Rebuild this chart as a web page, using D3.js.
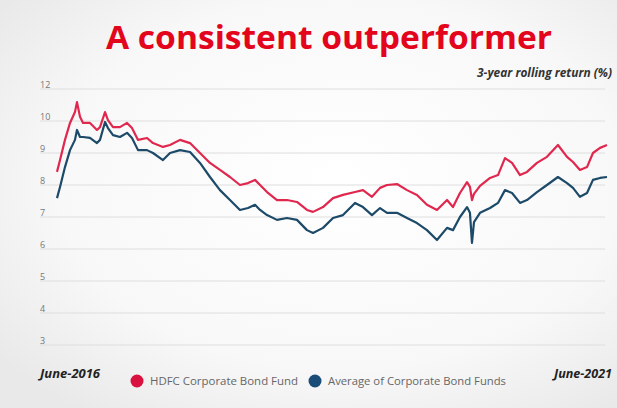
<!DOCTYPE html>
<html>
<head>
<meta charset="utf-8">
<script src="https://cdn.jsdelivr.net/npm/d3@7"></script>
<style>
  body { margin: 0; background: #f4f4f4; }
  svg { display: block; }
</style>
</head>
<body>
<div id="chart"></div>
<script>
// Data: months since June 2016 and 3-year rolling returns (%)
const months = [0, 0.33, 0.87, 1.42, 1.96, 2.18, 2.51, 2.84, 3.6, 4.36, 4.69, 5.24, 5.56, 6.11,
    6.87, 7.64, 8.18, 8.84, 9.82, 10.47, 11.56, 12.33, 13.42, 14.51, 15.6, 16.69, 17.78,
    18.87, 19.96, 20.84, 21.6, 22.15, 22.91, 24.0, 25.09, 26.18, 27.27, 27.93, 29.02, 30.11,
    31.2, 32.51, 33.38, 34.36, 35.24, 36.0, 37.09, 38.18, 39.27, 40.36, 41.45, 42.55, 43.2,
    43.96, 44.73, 45.05, 45.27, 45.49, 46.15, 47.24, 48.11, 48.87, 49.64, 50.51, 51.27,
    52.36, 53.45, 54.65, 55.64, 56.29, 57.05, 57.82, 58.47, 59.24, 60];
const hdfcFund = [8.41, 8.78, 9.41, 9.94, 10.28, 10.59, 10.13, 9.94, 9.94, 9.72, 9.81, 10.28, 10.03,
    9.81, 9.81, 9.94, 9.78, 9.41, 9.47, 9.31, 9.19, 9.25, 9.41, 9.31, 9.0, 8.69, 8.47, 8.25,
    8.0, 8.06, 8.16, 8.0, 7.78, 7.53, 7.53, 7.47, 7.22, 7.16, 7.31, 7.59, 7.69, 7.78, 7.84,
    7.63, 7.91, 8.0, 8.03, 7.84, 7.69, 7.38, 7.22, 7.53, 7.31, 7.75, 8.09, 7.94, 7.53, 7.72,
    7.97, 8.22, 8.31, 8.84, 8.69, 8.31, 8.41, 8.69, 8.88, 9.25, 8.88, 8.72, 8.47, 8.56,
    9.0, 9.16, 9.25];
const categoryAvg = [7.59, 7.94, 8.56, 9.09, 9.41, 9.72, 9.5, 9.5, 9.47, 9.31, 9.41, 9.97, 9.78,
    9.56, 9.5, 9.63, 9.47, 9.09, 9.09, 9.0, 8.78, 9.0, 9.09, 9.03, 8.69, 8.25, 7.84, 7.53,
    7.22, 7.28, 7.38, 7.22, 7.06, 6.91, 6.97, 6.91, 6.59, 6.5, 6.66, 6.97, 7.06, 7.44, 7.31,
    7.06, 7.28, 7.13, 7.13, 6.97, 6.81, 6.59, 6.28, 6.66, 6.59, 7.0, 7.31, 7.13, 6.19, 6.84,
    7.13, 7.28, 7.44, 7.84, 7.75, 7.44, 7.53, 7.78, 8.0, 8.25, 8.06, 7.91, 7.63, 7.75,
    8.16, 8.22, 8.25];

const yTicks = [3, 4, 5, 6, 7, 8, 9, 10, 11];
const yTickLabels = ["3", "4", "5", "6", "7", "8", "9", "10", "12"];
const seriesNames = ["HDFC Corporate Bond Fund", "Average of Corporate Bond Funds"];
const seriesColors = ["#e0284f", "#1d4a68"];
const dotColors = ["#d9113f", "#1a4c78"];
const startLabel = "June-2016", endLabel = "June-2021";

const width = 617, height = 408;

const svg = d3.select("#chart").append("svg")
    .attr("width", width)
    .attr("height", height);

// background
const defs = svg.append("defs");
const grad = defs.append("radialGradient").attr("id", "bg")
    .attr("cx", "55%").attr("cy", "45%").attr("r", "70%");
grad.append("stop").attr("offset", "0%").attr("stop-color", "#ffffff");
grad.append("stop").attr("offset", "65%").attr("stop-color", "#f8f8f8");
grad.append("stop").attr("offset", "100%").attr("stop-color", "#e9e9e9");
svg.append("rect").attr("width", width).attr("height", height).attr("fill", "url(#bg)");

// title
svg.append("text")
    .attr("x", 329).attr("y", 49)
    .attr("text-anchor", "middle")
    .attr("font-family", "Open Sans, sans-serif")
    .attr("font-weight", 700)
    .attr("font-size", 32)
    .attr("textLength", 446)
    .attr("lengthAdjust", "spacingAndGlyphs")
    .attr("fill", "#e3051b")
    .text("A consistent outperformer");

svg.append("text")
    .attr("x", 612).attr("y", 77)
    .attr("text-anchor", "end")
    .attr("font-family", "Open Sans, sans-serif")
    .attr("font-style", "italic")
    .attr("font-weight", 700)
    .attr("font-size", 11.5)
    .attr("textLength", 135)
    .attr("lengthAdjust", "spacingAndGlyphs")
    .attr("fill", "#333")
    .text("3-year rolling return (%)");

const x = d3.scaleLinear()
    .domain([0, 60])
    .range([57, 607]);

const y = d3.scaleLinear()
    .domain([3, 11])
    .range([345, 89]);

// grid
const grid = svg.append("g");
grid.selectAll("line")
    .data(yTicks)
    .enter()
    .append("line")
    .attr("x1", 40).attr("x2", 605)
    .attr("y1", d => y(d)).attr("y2", d => y(d))
    .attr("stroke", "#dedede")
    .attr("stroke-width", 1);

grid.selectAll("text")
    .data(yTicks)
    .enter()
    .append("text")
    .attr("x", 40)
    .attr("y", d => y(d) - 1)
    .attr("font-family", "Open Sans, sans-serif")
    .attr("font-size", 9)
    .attr("fill", "#777")
    .text((d, i) => yTickLabels[i]);

const line = d3.line()
    .x(d => x(d.m))
    .y(d => y(d.v));

const seriesData = [hdfcFund, categoryAvg].map(vals =>
    vals.map((v, i) => ({m: months[i], v: v})));

// draw average first so the fund line sits on top
svg.selectAll("path.series")
    .data([seriesData[1], seriesData[0]])
    .enter()
    .append("path")
    .attr("class", "series")
    .attr("d", line)
    .attr("fill", "none")
    .attr("stroke", (d, i) => seriesColors[1 - i])
    .attr("stroke-width", 2.2)
    .attr("stroke-linejoin", "round");

// bottom labels
svg.append("text")
    .attr("x", 40).attr("y", 378)
    .attr("font-family", "Open Sans, sans-serif")
    .attr("font-style", "italic").attr("font-weight", 700)
    .attr("font-size", 12)
    .attr("textLength", 60)
    .attr("lengthAdjust", "spacingAndGlyphs")
    .attr("fill", "#222")
    .text(startLabel);

svg.append("text")
    .attr("x", 612).attr("y", 378)
    .attr("text-anchor", "end")
    .attr("font-family", "Open Sans, sans-serif")
    .attr("font-style", "italic").attr("font-weight", 700)
    .attr("font-size", 12)
    .attr("textLength", 58)
    .attr("lengthAdjust", "spacingAndGlyphs")
    .attr("fill", "#222")
    .text(endLabel);

// legend
const legendX = [137, 315];
const legendTextLen = [148, 178];
const legend = svg.selectAll("g.legend")
    .data(seriesNames)
    .enter()
    .append("g")
    .attr("class", "legend")
    .attr("transform", (d, i) => `translate(${legendX[i]},381)`);

legend.append("circle")
    .attr("r", 6.5)
    .attr("fill", (d, i) => dotColors[i]);

legend.append("text")
    .attr("x", 13).attr("y", 4)
    .attr("font-family", "Open Sans, sans-serif")
    .attr("font-size", 11)
    .attr("textLength", (d, i) => legendTextLen[i])
    .attr("lengthAdjust", "spacingAndGlyphs")
    .attr("fill", "#666")
    .text(d => d);
</script>
</body>
</html>
